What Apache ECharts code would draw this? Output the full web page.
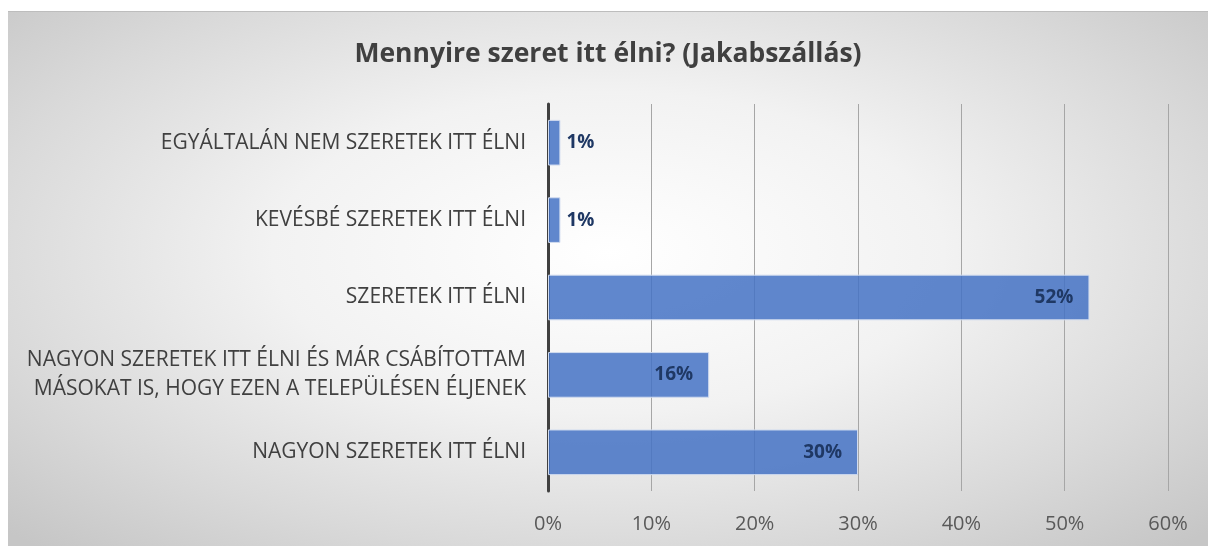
<!DOCTYPE html>
<html>
<head>
<meta charset="utf-8">
<script src="https://cdn.jsdelivr.net/npm/echarts@6/dist/echarts.min.js"></script>
<style>
  html, body { margin: 0; padding: 0; background: #fff; }
  #frame {
    position: absolute; left: 8px; top: 11px; width: 1200px; height: 535px;
    border-top: 1px solid #bdbdbd; box-sizing: border-box;
    background: radial-gradient(ellipse 70% 75% at 50% 45%, #ffffff 0%, #f2f2f2 40%, #d9d9d9 75%, #c6c6c6 100%);
  }
  #chart { width: 100%; height: 100%; }
</style>
</head>
<body>
<div id="frame"><div id="chart"></div></div>
<script>
  // kategóriák felülről lefelé
  var categories = [
    'EGYÁLTALÁN NEM SZERETEK ITT ÉLNI',
    'KEVÉSBÉ SZERETEK ITT ÉLNI',
    'SZERETEK ITT ÉLNI',
    'NAGYON SZERETEK ITT ÉLNI ÉS MÁR CSÁBÍTOTTAM\nMÁSOKAT IS, HOGY EZEN A TELEPÜLÉSEN ÉLJENEK',
    'NAGYON SZERETEK ITT ÉLNI'
  ]
  var values = [1.2, 1.2, 52.4, 15.6, 30.0]
  var xTicks = [0, 10, 20, 30, 40, 50, 60]

  var chart = echarts.init(document.getElementById('chart'))
  var fontFam = '"Open Sans", sans-serif'

  var option = {
    backgroundColor: 'transparent',
    animation: false,
    title: {
      text: 'Mennyire szeret itt élni? (Jakabszállás)',
      left: 'center',
      top: 24,
      textStyle: { fontSize: 26.5, fontWeight: 'bold', color: '#404040', fontFamily: fontFam }
    },
    grid: { left: 540, right: 40, top: 92, bottom: 55 },
    xAxis: {
      type: 'value',
      min: xTicks[0],
      max: xTicks[xTicks.length - 1],
      interval: 10,
      axisLine: { show: false },
      axisTick: { show: false },
      splitLine: { show: true, lineStyle: { color: '#a6a6a6', width: 1 } },
      axisLabel: {
        formatter: '{value}%',
        color: '#595959',
        fontSize: 20,
        fontFamily: fontFam,
        margin: 23
      }
    },
    yAxis: {
      type: 'category',
      inverse: true,
      data: categories,
      axisLine: { show: true, lineStyle: { color: '#404040', width: 3 } },
      axisTick: { show: false },
      axisLabel: {
        color: '#404040',
        fontSize: 21,
        fontFamily: fontFam,
        margin: 22,
        lineHeight: 29,
        align: 'right'
      }
    },
    series: [{
      type: 'bar',
      barCategoryGap: '41%',
      data: values.map(function (v) {
        return {
          value: v,
          label: v < 5
            ? { position: 'right', distance: 6 }
            : { position: 'insideRight', distance: 16 }
        }
      }),
      itemStyle: {
        color: 'rgba(68,114,196,0.85)',
        borderColor: '#d2dcef',
        borderWidth: 1
      },
      label: {
        show: true,
        formatter: function (p) { return Math.round(p.value) + '%' },
        color: '#1f3864',
        fontSize: 19,
        fontWeight: 'bold',
        fontFamily: fontFam
      }
    }]
  }

  chart.setOption(option)
</script>
</body>
</html>
